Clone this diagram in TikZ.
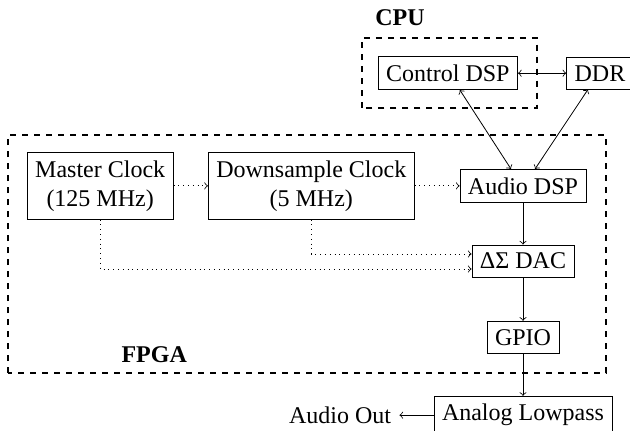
\documentclass[12pt,tikz,border=0pt]{standalone}
\usepackage{fontspec}
\setmainfont{Liberation Serif}
\usepackage{tikz}
\usetikzlibrary{positioning,calc}
\tikzset{
  blk/.style={draw, align=center},
  group/.style={draw, dashed, thick},
  sig/.style={->},
  bidir/.style={<->},
  clk/.style={->, dotted},
  lbl/.style={font=\bfseries}
}

\begin{document}
\begin{tikzpicture}
  \useasboundingbox (0,0) rectangle (11.07,7.556);

  % processing blocks
  \node[blk] (ctrl) at (7.87,6.27) {Control DSP};
  \node[blk, anchor=west] (ddr) at (9.95,6.27) {DDR};
  \node[blk] (mclk) at (1.76,4.29) {Master Clock\\(125 MHz)};
  \node[blk] (dclk) at (5.47,4.29) {Downsample Clock\\(5 MHz)};
  \node[blk] (adsp) at (9.19,4.29) {Audio DSP};
  \node[blk] (dac) at (9.19,2.97) {ΔΣ DAC};
  \node[blk] (gpio) at (9.19,1.63) {GPIO};
  \node[blk, anchor=north] (lpf) at (9.19,0.60) {Analog Lowpass};
  \node (out) [left=0.6cm of lpf] {Audio Out};

  % chip boundaries
  \draw[group] (6.36,5.66) rectangle (9.44,6.89);
  \draw[group] (0.14,1.00) rectangle (10.65,5.18);
  \node[lbl] (cpu) at (7.03,7.24) {CPU};
  \node[lbl] (fpga) at (2.71,1.32) {FPGA};

  % data paths
  \draw[bidir] (ctrl) -- (ddr);
  \draw[bidir] ([xshift=6pt]ctrl.south) -- ([xshift=-6pt]adsp.north);
  \draw[bidir] ([xshift=-6pt]ddr.south) -- ([xshift=6pt]adsp.north);
  \draw[sig] (adsp) -- (dac);
  \draw[sig] (dac) -- (gpio);
  \draw[sig] (gpio) -- (lpf);
  \draw[sig] (lpf) -- (out);

  % clocks
  \draw[clk] (mclk) -- (dclk);
  \draw[clk] (dclk) -- (adsp);
  \draw[clk] (dclk.south) |- ([yshift=3.5pt]dac.west);
  \draw[clk] (mclk.south) |- ([yshift=-4pt]dac.west);
\end{tikzpicture}
\end{document}
